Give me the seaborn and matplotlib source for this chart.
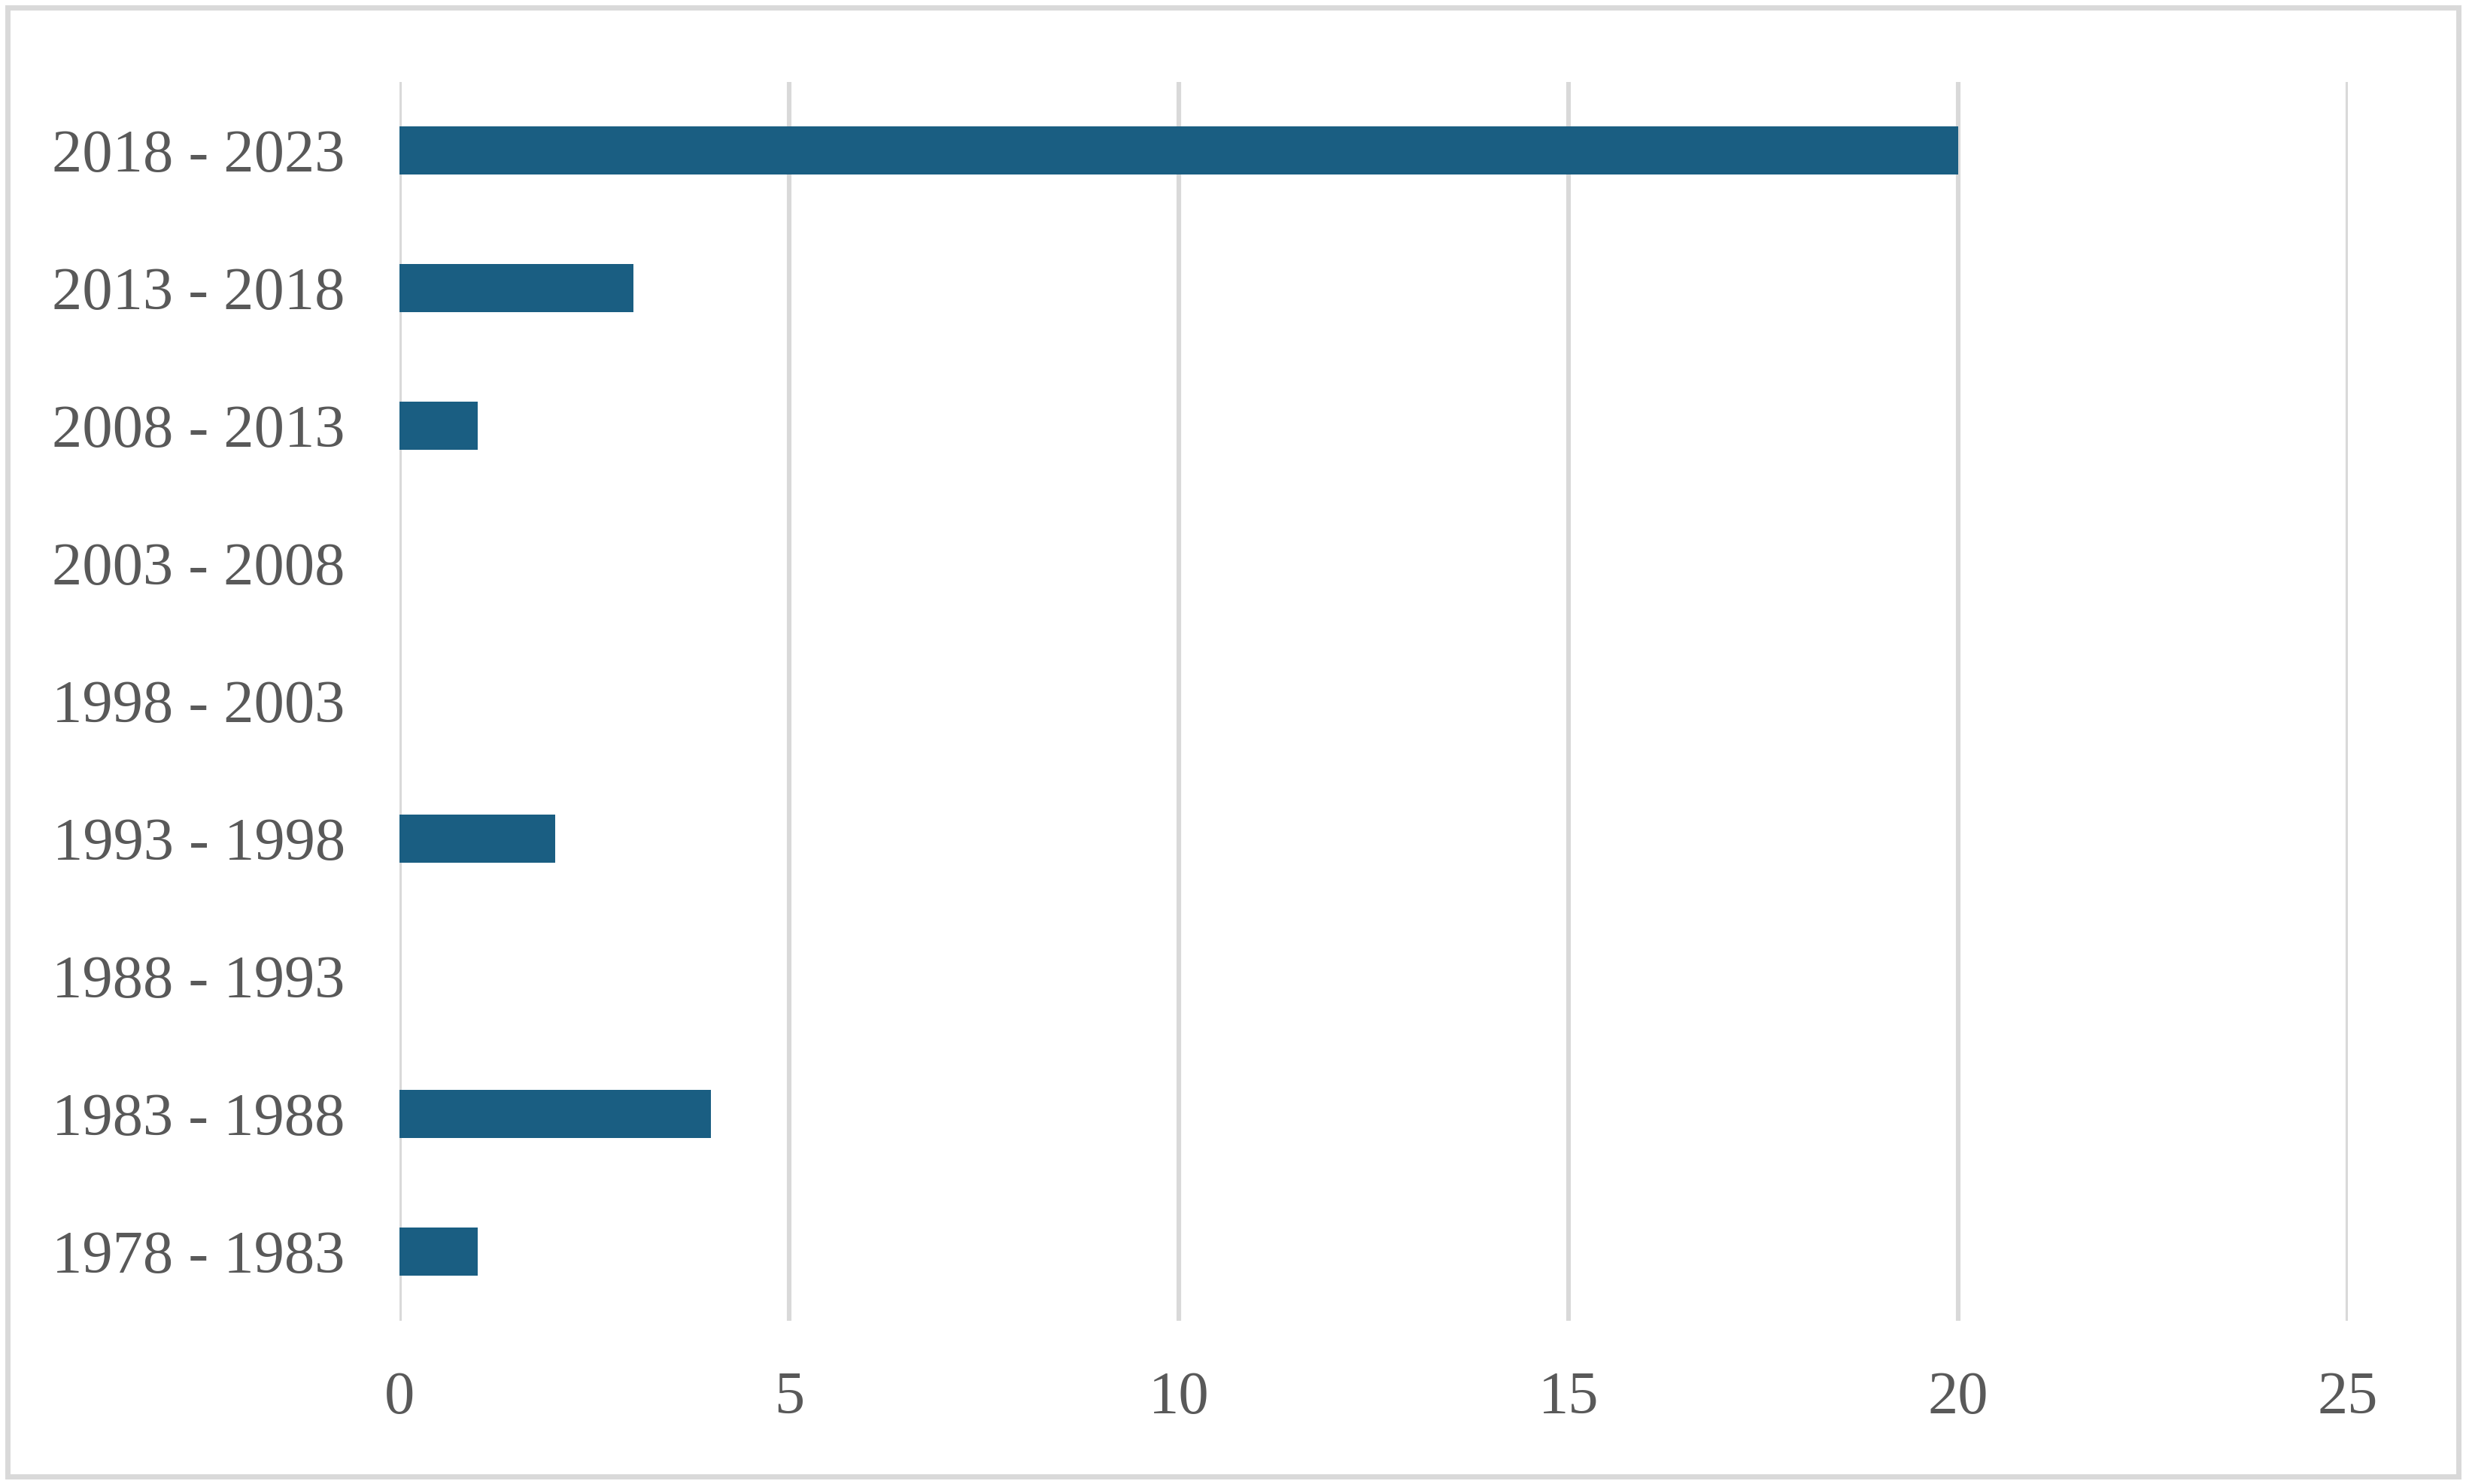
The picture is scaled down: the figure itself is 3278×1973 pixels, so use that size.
import pandas as pd
import seaborn as sns
import matplotlib.pyplot as plt
from matplotlib.patches import Rectangle

# data, top to bottom
periods = ['2018 - 2023', '2013 - 2018', '2008 - 2013', '2003 - 2008', '1998 - 2003',
           '1993 - 1998', '1988 - 1993', '1983 - 1988', '1978 - 1983']
counts = [20, 3, 1, 0, 0, 2, 0, 4, 1]
x_ticks = [0, 5, 10, 15, 20, 25]

df = pd.DataFrame({'period': periods, 'count': counts})

sns.set_theme(style='white')
plt.rcParams['font.family'] = ['Liberation Serif', 'DejaVu Serif']

text_color = '#595959'
grid_color = '#d9d9d9'
bar_color = '#1a5e82'

fig = plt.figure(figsize=(16.39, 9.865), dpi=200)
ax = fig.add_axes([0.162, 0.110, 0.790, 0.835])

sns.barplot(data=df, x='count', y='period', order=periods, orient='h',
            color=bar_color, width=0.35, saturation=1, linewidth=0,
            ax=ax, zorder=3)

ax.set_xlim(0, 25)
ax.set_ylim(8.5, -0.5)
ax.set_xticks(x_ticks)
ax.xaxis.grid(True, color=grid_color, linewidth=2.2, zorder=0)
ax.yaxis.grid(False)
for s in ax.spines.values():
    s.set_visible(False)

ax.set_xlabel('')
ax.set_ylabel('')
ax.tick_params(axis='both', length=0, labelsize=29, labelcolor=text_color)
ax.tick_params(axis='y', pad=26)
ax.tick_params(axis='x', pad=24)

# outer frame of the chart area
fig.patches.append(Rectangle((0.003, 0.005), 0.994, 0.99, transform=fig.transFigure,
                             fill=False, edgecolor=grid_color, linewidth=2.5))

fig.savefig('out.png', dpi=200, facecolor='white')
